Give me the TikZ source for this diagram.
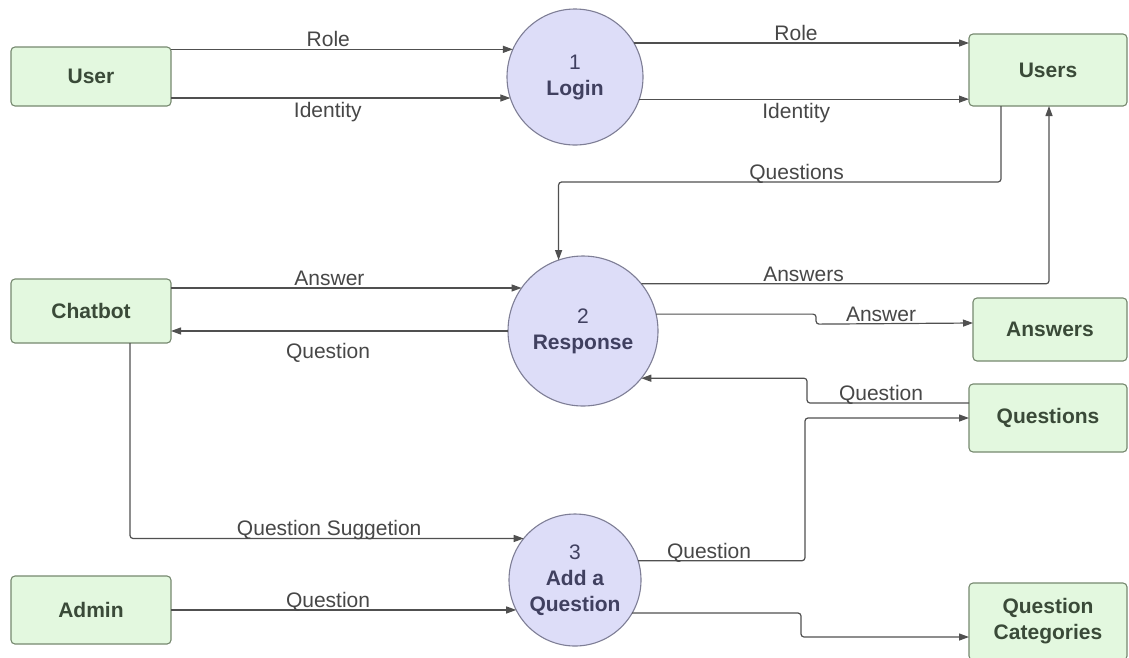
\documentclass[tikz,border=0pt]{standalone}
\usepackage{fontspec}
\setmainfont{Liberation Sans}
\usetikzlibrary{arrows.meta,calc}

\definecolor{boxfill}{HTML}{E3F8DF}
\definecolor{boxline}{HTML}{76896F}
\definecolor{boxtext}{HTML}{3A4A38}
\definecolor{circfill}{HTML}{DDDDF8}
\definecolor{circline}{HTML}{7E7E96}
\definecolor{circtext}{HTML}{404060}
\definecolor{flowcol}{HTML}{505050}
\definecolor{lblcol}{HTML}{474747}

\begin{document}
\begin{tikzpicture}[x=1pt,y=-1pt,
  entity/.style={draw=boxline, fill=boxfill, rounded corners=4pt, line width=1.1pt,
    font=\fontsize{21}{26}\selectfont\bfseries, text=boxtext, inner sep=0pt,
    outer sep=0pt, align=center},
  process/.style={circle, draw=circline, fill=circfill, line width=1.1pt,
    font=\fontsize{21}{26}\selectfont, text=circtext, inner sep=0pt,
    outer sep=0pt, align=center},
  flow/.style={draw=flowcol, line width=1.2pt, rounded corners=3pt,
    -{Triangle[length=10pt,width=7pt]}},
  lbl/.style={font=\fontsize{21}{26}\selectfont, text=lblcol, inner sep=0pt,
    text depth=0.2em, fill=none}
]
\useasboundingbox (0,0) rectangle (1129,657);
\clip (0,0) rectangle (1129,657);
\fill[white] (0,0) rectangle (1129,657);

% external entities and data stores
\node[entity, minimum width=160pt, minimum height=59pt] (user) at (91,76.5) {User};
\node[entity, minimum width=160pt, minimum height=64pt] (chatbot) at (91,311) {Chatbot};
\node[entity, minimum width=160pt, minimum height=68pt] (admin) at (91,610) {Admin};
\node[entity, minimum width=158pt, minimum height=72pt] (users) at (1048,70) {Users};
\node[entity, minimum width=154pt, minimum height=63pt] (answers) at (1050,329.5) {Answers};
\node[entity, minimum width=158pt, minimum height=68pt] (questions) at (1048,418) {Questions};
\node[entity, minimum width=158pt, minimum height=77pt] (qcat) at (1048,621.5) {Question\\Categories};

% processes
\node[process, minimum size=136pt] (login) at (575,77) {1\\\textbf{Login}};
\node[process, minimum size=150pt] (resp) at (583,331) {2\\\textbf{Response}};
\node[process, minimum size=132pt] (addq) at (575,580) {3\\\textbf{Add a}\\\textbf{Question}};

% login flows
\draw[flow] (user.east |- login.156.6) -- node[lbl, above, pos=.46] {Role} (login.156.6);
\draw[flow] (user.east |- login.198.9) -- node[lbl, below=4pt, pos=.462] {Identity} (login.198.9);
\draw[flow] (login.30) -- node[lbl, above, pos=.484] {Role} (login.30 -| users.west);
\draw[flow] (login.-19.8) -- node[lbl, below=4pt, pos=.476] {Identity} (login.-19.8 -| users.west);

% response flows
\draw[flow] ($(users.south west)+(32,0)$) -- ++(0,76)
  -| node[lbl, above, pos=.231] {Questions} (resp.109.5);
\draw[flow] (resp.39.8) -| node[lbl, above, pos=.199] {Answers} ($(users.south west)+(80,0)$);
\draw[flow] (chatbot.east |- resp.145.9) -- node[lbl, above, pos=.452] {Answer} (resp.145.9);
\draw[flow] (resp.180) -- node[lbl, below=12pt, pos=.534] {Question} (resp.180 -| chatbot.east);
\draw[flow] (resp.13.9) -- ++(160,0) -- ++(0,10)
  -- node[lbl, above, pos=.414] {Answer} ($(answers.west)+(0,-6.5)$);
\draw[flow] ($(questions.west)+(0,-15)$) -- node[lbl, above, pos=.543] {Question} ++(-162,0)
  |- (resp.-39.8);

% add-a-question flows
\draw[flow] ($(chatbot.south west)+(119,0)$) |- node[lbl, above, pos=.753] {Question Suggetion} (addq.141.6);
\draw[flow] (admin.east |- addq.207) -- node[lbl, above, pos=.455] {Question} (addq.207);
\draw[flow] (addq.17.6) -| node[lbl, above, pos=.2125] {Question} ($(questions.west)+(-164,0)$)
  -- (questions.west);
\draw[flow] (addq.-30) -| ($(qcat.west)+(-168,15.5)$) -- ($(qcat.west)+(0,15.5)$);
\end{tikzpicture}
\end{document}
